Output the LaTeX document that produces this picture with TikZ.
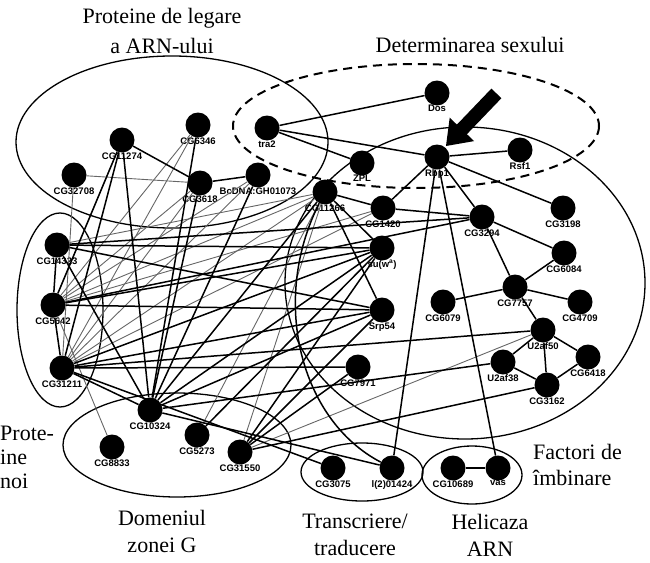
\documentclass[tikz,border=0pt]{standalone}
\usepackage{fontspec}
\setmainfont{Liberation Serif}
\newfontfamily\labfont{Liberation Sans}
\begin{document}
\begin{tikzpicture}[x=1pt,y=-1pt,
  gn/.style={circle,fill=black,draw=none,minimum size=25pt,inner sep=0pt},
  lab/.style={font=\labfont\bfseries\fontsize{9.5}{9.5}\selectfont,inner sep=0.5pt},
  grp/.style={draw=black,line width=1.3pt},
  grpd/.style={draw=black,line width=2pt,dash pattern=on 9pt off 6pt},
  ek/.style={draw=black,line width=1.5pt},
  eg/.style={draw=black!60,line width=0.9pt},
  big/.style={font=\fontsize{22}{27}\selectfont,inner sep=0pt,align=center},
  label distance=-1pt]
\useasboundingbox (0,0) rectangle (650,562);
% groups
\draw[grp] (172,142) ellipse [x radius=156,y radius=86];
\draw[grp] (465,283) ellipse [x radius=180,y radius=156];
\draw[grp] (60,310) ellipse [x radius=43,y radius=97];
\draw[grp] (177,445) ellipse [x radius=114,y radius=52];
\draw[grp] (362,472) ellipse [x radius=61,y radius=29];
\draw[grp] (472,475) ellipse [x radius=50,y radius=29];
\draw[grpd] (416,126) ellipse [x radius=183,y radius=62];
% nodes
\node[gn,label={[lab]below:Dos}] (dos) at (437,93) {};
\node[gn,label={[lab]below:tra2}] (tra) at (267,128) {};
\node[gn,label={[lab]below:Rbp1}] (rbp) at (437,157) {};
\node[gn,label={[lab]below:Rsf1}] (rsf) at (520,150) {};
\node[gn,label={[lab]below:ZPL}] (zpl) at (362,163) {};
\node[gn,label={[lab]below:CG11274}] (c11274) at (122,140) {};
\node[gn,label={[lab]below:CG6346}] (c6346) at (198,125) {};
\node[gn,label={[lab]below:CG32708}] (c32708) at (74,175) {};
\node[gn,label={[lab]below:CG3618}] (c3618) at (200,183) {};
\node[gn,label={[lab]below:BcDNA:GH01073}] (bcd) at (258,175) {};
\node[gn,label={[lab]below:CG11266}] (c11266) at (325,192) {};
\node[gn,label={[lab]below:CG1420}] (c1420) at (383,208) {};
\node[gn,label={[lab]below:CG3294}] (c3294) at (482,217) {};
\node[gn,label={[lab]below:CG3198}] (c3198) at (563,208) {};
\node[gn,label={[lab]below:CG6084}] (c6084) at (564,253) {};
\node[gn,label={[lab]below:su(w\textsuperscript{a})}] (suw) at (382,248) {};
\node[gn,label={[lab]below:Srp54}] (srp) at (382,310) {};
\node[gn,label={[lab]below:CG7757}] (c7757) at (515,287) {};
\node[gn,label={[lab]below:CG4709}] (c4709) at (580,302) {};
\node[gn,label={[lab]below:CG6079}] (c6079) at (443,302) {};
\node[gn,label={[lab]below:U2af50}] (u50) at (543,330) {};
\node[gn,label={[lab]below:U2af38}] (u38) at (503,362) {};
\node[gn,label={[lab]below:CG6418}] (c6418) at (588,357) {};
\node[gn,label={[lab]below:CG3162}] (c3162) at (547,385) {};
\node[gn,label={[lab]below:CG7971}] (c7971) at (358,367) {};
\node[gn,label={[lab]below:CG14323}] (c14323) at (57,245) {};
\node[gn,label={[lab]below:CG5642}] (c5642) at (53,305) {};
\node[gn,label={[lab]below:CG31211}] (c31211) at (62,368) {};
\node[gn,label={[lab]below:CG10324}] (c10324) at (150,410) {};
\node[gn,label={[lab]below:CG8833}] (c8833) at (112,447) {};
\node[gn,label={[lab]below:CG5273}] (c5273) at (197,435) {};
\node[gn,label={[lab]below:CG31550}] (c31550) at (240,452) {};
\node[gn,label={[lab]below:CG3075}] (c3075) at (333,468) {};
\node[gn,label={[lab]below:l(2)01424}] (l2) at (392,468) {};
\node[gn,label={[lab]below:CG10689}] (c10689) at (453,468) {};
\node[gn,label={[lab]below:vas}] (vas) at (498,468) {};
% gray fan edges
\foreach \a/\b in {c5642/c11274,c5642/c3618,c5642/bcd,c5642/c6346,c5642/c11266,c5642/c1420,
  c31211/c3618,c31211/bcd,c31211/c11266,c31211/c1420,c31211/c6346,c31211/c32708,
  c32708/c3618,c8833/c5642,c31550/c11266,c31550/u50,c5273/c11266,c14323/c11266}
  \draw[eg] (\a) -- (\b);
% black edges
\foreach \a/\b in {tra/dos,tra/rbp,tra/zpl,c11274/c3618,c3618/bcd,c6346/c10324,
  rbp/rsf,rbp/c3198,rbp/c3294,rbp/l2,rbp/vas,rbp/c1420,
  c3294/c6084,c3294/c7757,c3294/c1420,c3294/c14323,c3294/c5642,
  c7757/c6084,c7757/c4709,c7757/c6079,c7757/u50,
  u50/u38,u50/c6418,u50/c3162,u38/c3162,c3162/c6418,u50/c31211,u38/c10324,c3162/c31550,
  c11266/suw,c11266/srp,c11266/c1420,c7971/c31211,
  c14323/suw,c14323/srp,c14323/c5642,c5642/c31211,c5642/srp,c5642/suw,
  c31211/c10324,c31211/c3075,c31211/suw,c31211/srp,
  c10324/c11274,c10324/c3618,c10324/bcd,c10324/c11266,c10324/suw,c10324/srp,c10324/l2,
  c11274/c31211,c11274/c5642,c5273/suw,c31550/suw,c31550/srp,c31550/c7971,
  c14323/c10324,c10689/vas}
  \draw[ek] (\a) -- (\b);
\draw[ek] (c11266) .. controls (270,300) and (300,420) .. (l2);
% arrow
\fill[black] (449.7,117.7) -- (456.9,124.6) -- (491.4,88.6) -- (501.4,98.2) -- (466.9,134.2) -- (474.1,141.1) -- (446,146) -- cycle;
% texts
\node[big] (t1) at (162,18) {Proteine de legare};
\node[big] (t2) at (162,46) {a ARN-ului};
\node[big] (t3) at (470,45) {Determinarea sexului};
\node[big,anchor=west,align=left,font=\fontsize{22}{24}\selectfont] (t4) at (0,457) {Prote-\\ine\\noi};
\node[big] (t5) at (162,531) {Domeniul\\zonei G};
\node[big] (t6) at (355,535) {Transcriere/\\traducere};
\node[big] (t7) at (490,535) {Helicaza\\ARN};
\node[big,anchor=west,align=left,font=\fontsize{22}{26}\selectfont] (t8) at (533,465) {Factori de\\îmbinare};
\end{tikzpicture}
\end{document}
